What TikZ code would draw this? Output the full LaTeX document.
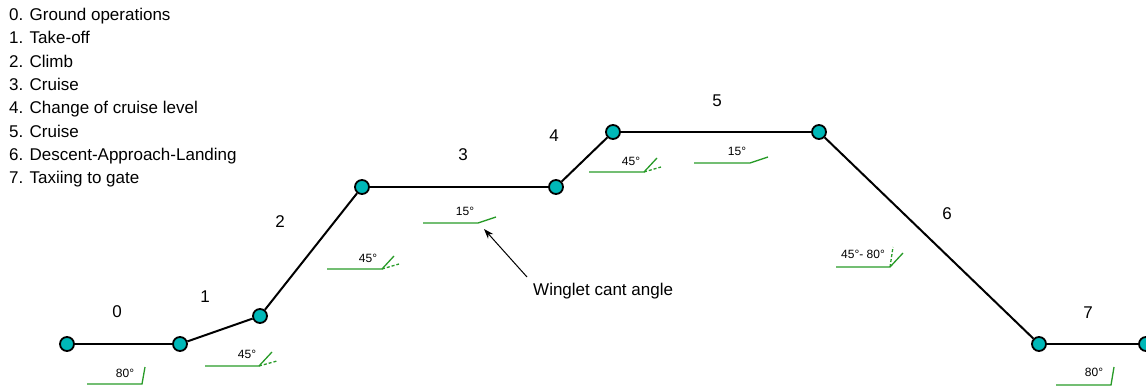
\documentclass[tikz,border=0pt]{standalone}
\usepackage{fontspec}
\setmainfont{Liberation Sans}
\usetikzlibrary{arrows.meta}
\definecolor{wpt}{RGB}{0,184,184}
\definecolor{wgreen}{RGB}{40,155,40}
\tikzset{
  wp/.style={circle, draw=black, line width=1.8pt, fill=wpt, minimum size=14pt, inner sep=0pt},
  flight/.style={draw=black, line width=2pt},
  phase/.style={font=\fontsize{17}{20}\selectfont, inner sep=0pt},
  legend/.style={font=\fontsize{17}{20}\selectfont, inner sep=0pt, anchor=base west},
  ang/.style={font=\fontsize{12}{14}\selectfont, inner sep=0pt},
  wl/.style={draw=wgreen, line width=1.3pt},
  wld/.style={draw=wgreen, line width=1.3pt, dash pattern=on 3pt off 2pt},
}
\begin{document}
\begin{tikzpicture}[x=1pt, y=-1pt]
\useasboundingbox (0,0) rectangle (1146,390);
% legend
\foreach \t [count=\i from 0] in {Ground operations, Take-off, Climb, Cruise, Change of cruise level, Cruise, Descent-Approach-Landing, Taxiing to gate}
  \node[legend] (l\i) at (9, 20.7+23.3*\i) {\i. \t};
% flight profile
\node[wp] (n0) at (67,344) {};
\node[wp] (n1) at (180,344) {};
\node[wp] (n2) at (260,316) {};
\node[wp] (n3) at (362,187) {};
\node[wp] (n4) at (556,187) {};
\node[wp] (n5) at (613,132) {};
\node[wp] (n6) at (819,132) {};
\node[wp] (n7) at (1039,344) {};
\node[wp] (n8) at (1146,344) {};
\draw[flight] (n0) -- (n1);
\draw[flight] (n1) -- (n2);
\draw[flight] (n2) -- (n3);
\draw[flight] (n3) -- (n4);
\draw[flight] (n4) -- (n5);
\draw[flight] (n5) -- (n6);
\draw[flight] (n6) -- (n7);
\draw[flight] (n7) -- (n8);
% phase numbers
\node[phase] (p0) at (117,312) {0};
\node[phase] (p1) at (205,297) {1};
\node[phase] (p2) at (280,222) {2};
\node[phase] (p3) at (463,155) {3};
\node[phase] (p4) at (554,136) {4};
\node[phase] (p5) at (717,101) {5};
\node[phase] (p6) at (947,214) {6};
\node[phase] (p7) at (1088,313) {7};
% winglet symbols
% 0
\draw[wl] (87,384) -- (142,384) -- (145,367);
\node[ang] (a0) at (125,373) {80°};
% 1
\draw[wl] (205,366) -- (259,366) -- (272,352);
\draw[wld] (259,366) -- (277,361);
\node[ang] (a1) at (247,354) {45°};
% 2
\draw[wl] (327,269) -- (382,269) -- (394,256);
\draw[wld] (382,269) -- (399,264);
\node[ang] (a2) at (368,258) {45°};
% 3
\draw[wl] (423,223) -- (478,223) -- (496,217);
\node[ang] (a3) at (465,211) {15°};
% 4
\draw[wl] (589,172) -- (644,172) -- (657,158);
\draw[wld] (644,172) -- (661,167);
\node[ang] (a4) at (631,161) {45°};
% 5
\draw[wl] (694,163) -- (750,163) -- (768,157);
\node[ang] (a5) at (737,151) {15°};
% 6
\draw[wl] (836,267) -- (890,267) -- (903,253);
\draw[wld] (890,267) -- (893,247);
\node[ang] (a6) at (863,254) {45°- 80°};
% 7
\draw[wl] (1056,385) -- (1111,385) -- (1114,367);
\node[ang] (a7) at (1094,372) {80°};
% annotation
\node[font=\fontsize{17}{20}\selectfont, inner sep=0pt, anchor=base west] (wca) at (533,295) {Winglet cant angle};
\coordinate (tail) at (527,277);
\coordinate (tip) at (484,229);
\draw[line width=1pt, -{Stealth[length=10pt, width=7pt]}] (tail) -- (tip);
\end{tikzpicture}
\end{document}
